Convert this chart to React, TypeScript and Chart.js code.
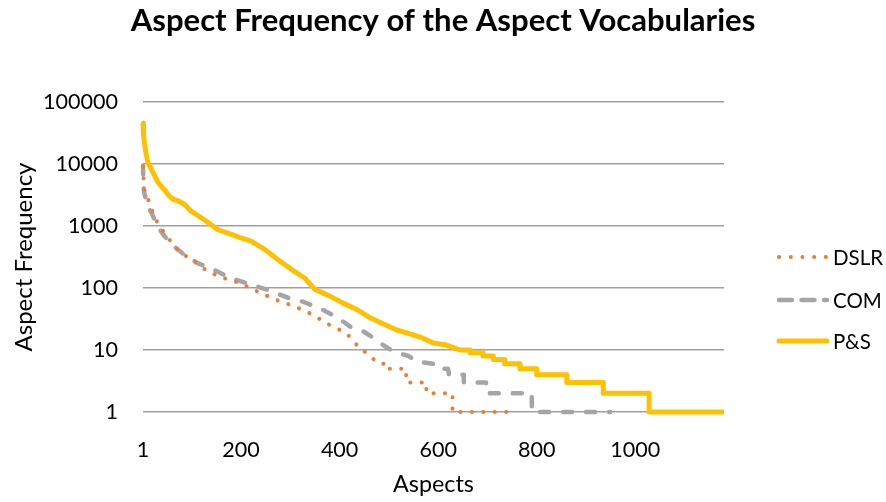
import React, { useEffect, useRef } from 'react';
import { Chart, registerables } from 'chart.js';

Chart.register(...registerables);

// ---- data ----
const chartTitle = 'Aspect Frequency of the Aspect Vocabularies';
const xAxisTitle = 'Aspects';
const yAxisTitle = 'Aspect Frequency';
const seriesNames = ['DSLR', 'COM', 'P&S'];

const xTickValues = [1, 200, 400, 600, 800, 1000];
const yTickValues = [1, 10, 100, 1000, 10000, 100000];

const dslrX = [1, 3, 6, 12, 18, 31, 52, 72, 90, 106, 133, 167, 200, 218, 241, 272, 310, 340, 381, 401, 421, 441, 455, 470, 482, 495, 495, 528, 528, 535, 535, 576, 576, 629, 629, 748];
const dslrY = [9000, 4200, 3200, 2600, 1900, 1100, 640, 410, 320, 265, 183, 143, 119, 100, 82, 64, 50, 39, 25, 21, 16.4, 10.5, 9, 7, 6, 6, 5, 5, 4, 4, 3, 3, 2, 2, 1, 1];

const comX = [1, 2, 4, 11, 18, 31, 45, 65, 86, 113, 146, 180, 218, 255, 299, 326, 360, 394, 421, 448, 475, 482, 508, 540, 557, 590, 598, 620, 622, 652, 652, 697, 697, 790, 790, 949];
const comY = [9500, 4300, 3300, 2050, 1650, 975, 680, 460, 340, 250, 195, 143, 115, 93, 68, 60, 47, 34, 24, 20, 14.5, 13, 9.5, 8, 6.5, 6, 5, 5, 4, 4, 3, 3, 2, 2, 1, 1];

const pasX = [1, 2, 4, 7, 11, 21, 31, 45, 55, 62, 72, 85, 98, 126, 153, 175, 194, 220, 248, 275, 302, 329, 350, 383, 407, 435, 462, 490, 516, 545, 569, 590, 617, 644, 665, 665, 691, 691, 712, 712, 735, 735, 766, 766, 800, 800, 861, 861, 935, 935, 1028, 1028, 1180];
const pasY = [46000, 30000, 22000, 15000, 10500, 7400, 5100, 3800, 3000, 2700, 2550, 2250, 1750, 1250, 870, 760, 670, 570, 420, 285, 200, 145, 95, 72, 57, 45, 33, 26, 21, 18, 15.5, 13, 12, 10, 10, 9, 9, 8, 8, 7, 7, 6, 6, 5, 5, 4, 4, 3, 3, 2, 2, 1, 1];

const FAMILY = 'Lato, "Open Sans", "Liberation Sans", sans-serif';

function fitSize(text: string, weight: string, target: number): number {
  const c = document.createElement('canvas').getContext('2d')!;
  c.font = `${weight} 100px ${FAMILY}`;
  const w = c.measureText(text).width;
  return (100 * target) / w;
}

const toPoints = (xs: number[], ys: number[]) => xs.map((x, i) => ({ x, y: ys[i] }));

export default function App() {
  const ref = useRef<HTMLCanvasElement>(null);

  useEffect(() => {
    const tickSize = fitSize('100000', 'normal', 75);
    const yTitleSize = fitSize(yAxisTitle, 'normal', 189);
    const xTitleSize = fitSize(xAxisTitle, 'normal', 81);
    const legendSize = fitSize('DSLR', 'normal', 50);
    const titleSize = fitSize(chartTitle, 'bold', 625);

    const legendStyles = [
      { color: '#ED7D31', width: 4, dash: [0.1, 11.6], y: 257 },
      { color: '#A5A5A5', width: 4.5, dash: [13, 9.5], y: 300 },
      { color: '#FFC000', width: 5, dash: [] as number[], y: 341 },
    ];

    const decorPlugin = {
      id: 'decor',
      afterDraw(chart: any) {
        const ctx = chart.ctx as CanvasRenderingContext2D;
        ctx.save();
        // title
        ctx.fillStyle = '#000';
        ctx.font = `bold ${titleSize}px ${FAMILY}`;
        ctx.textAlign = 'center';
        ctx.textBaseline = 'alphabetic';
        ctx.fillText(chartTitle, 443, 31);
        // legend
        ctx.font = `${legendSize}px ${FAMILY}`;
        ctx.textAlign = 'left';
        ctx.textBaseline = 'middle';
        seriesNames.forEach((name, i) => {
          const s = legendStyles[i];
          ctx.beginPath();
          ctx.setLineDash(s.dash);
          ctx.lineCap = 'round';
          ctx.strokeStyle = s.color;
          ctx.lineWidth = s.width;
          ctx.moveTo(779, s.y);
          ctx.lineTo(827, s.y);
          ctx.stroke();
          ctx.setLineDash([]);
          ctx.fillStyle = '#000';
          ctx.fillText(name, 833, s.y + 1);
        });
        ctx.restore();
      },
    };

    const chart = new Chart(ref.current!, {
      type: 'line',
      data: {
        datasets: [
          {
            label: seriesNames[0],
            data: toPoints(dslrX, dslrY),
            borderColor: '#ED7D31',
            borderWidth: 4,
            borderDash: [0.1, 11.3],
            borderCapStyle: 'round',
            borderJoinStyle: 'round',
            pointRadius: 0,
            tension: 0,
            clip: false as any,
          },
          {
            label: seriesNames[1],
            data: toPoints(comX, comY),
            borderColor: '#A5A5A5',
            borderWidth: 4.5,
            borderDash: [9, 14],
            borderCapStyle: 'round',
            borderJoinStyle: 'round',
            pointRadius: 0,
            tension: 0,
            clip: false as any,
          },
          {
            label: seriesNames[2],
            data: toPoints(pasX, pasY),
            borderColor: '#FFC000',
            borderWidth: 5,
            borderCapStyle: 'butt',
            borderJoinStyle: 'round',
            pointRadius: 0,
            tension: 0,
            clip: false as any,
          },
        ],
      },
      options: {
        responsive: false,
        animation: false,
        events: [],
        layout: { padding: { top: 102, right: 162, left: 0, bottom: 0 } },
        plugins: {
          legend: { display: false },
          title: { display: false },
          tooltip: { enabled: false },
        },
        scales: {
          x: {
            type: 'linear',
            min: 1,
            max: 1180,
            grid: { display: false },
            border: { display: false },
            afterBuildTicks: (scale: any) => {
              scale.ticks = xTickValues.map((v) => ({ value: v }));
            },
            afterFit: (scale: any) => {
              scale.height = 90;
            },
            ticks: {
              autoSkip: false,
              maxRotation: 0,
              padding: 17,
              color: '#000',
              font: { family: FAMILY, size: tickSize },
              callback: (v: any) => String(v),
            },
            title: {
              display: true,
              text: xAxisTitle,
              color: '#000',
              font: { family: FAMILY, size: xTitleSize },
              padding: { top: 0, bottom: 4 },
            },
          },
          y: {
            type: 'logarithmic',
            min: 1,
            max: 100000,
            grid: { color: '#A0A0A0', lineWidth: 1.5, drawTicks: false },
            border: { display: false },
            afterBuildTicks: (scale: any) => {
              scale.ticks = yTickValues.map((v) => ({ value: v }));
            },
            afterFit: (scale: any) => {
              scale.width = 143;
            },
            ticks: {
              padding: 25,
              color: '#000',
              font: { family: FAMILY, size: tickSize },
              callback: (v: any) => String(v),
            },
            title: {
              display: true,
              text: yAxisTitle,
              color: '#000',
              font: { family: FAMILY, size: yTitleSize },
              padding: { top: 10, bottom: 0 },
            },
          },
        },
      },
      plugins: [decorPlugin],
    } as any);

    return () => chart.destroy();
  }, []);

  return (
    <div style={{ position: 'absolute', left: 0, top: 0, width: 886, height: 502, background: '#fff' }}>
      <canvas ref={ref} width={886} height={502} style={{ display: 'block' }} />
    </div>
  );
}
